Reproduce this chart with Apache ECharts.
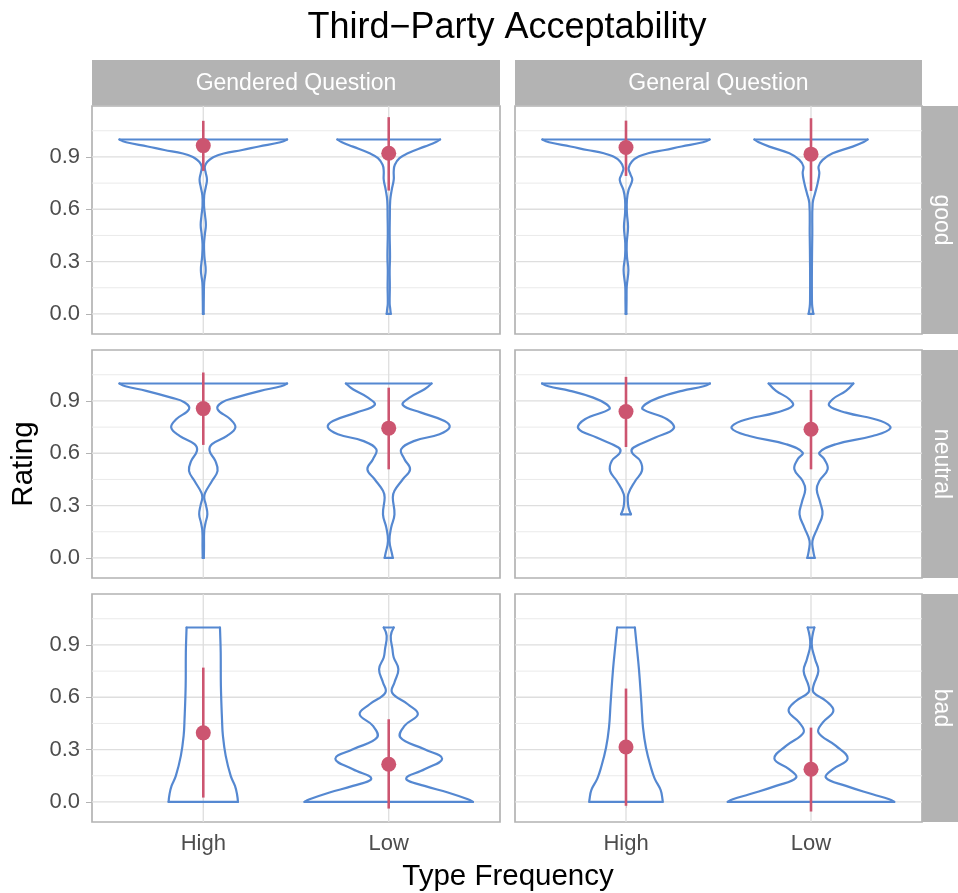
<!DOCTYPE html>
<html><head><meta charset="utf-8">
<script src="https://cdn.jsdelivr.net/npm/echarts@6/dist/echarts.min.js"></script>
<style>html,body{margin:0;padding:0;background:#fff}#c{width:958px;height:893px}</style>
</head><body><div id="c"></div>
<script>
// ---------- data ----------
const rowLabels = ['good', 'neutral', 'bad'];
const colLabels = ['Gendered Question', 'General Question'];
const freqLabels = ['High', 'Low'];
const ratingTicks = [0, 0.3, 0.6, 0.9];
const ratingMinor = [0.15, 0.45, 0.75, 1.05];

// violin outlines: [rating, half-width (x-axis units)]
const violinGoodGenderedHigh = [[0,0.002],[0.1,0.003],[0.18,0.005],[0.25,0.013],[0.33,0.006],[0.4,0.004],[0.46,0.009],[0.51,0.014],[0.56,0.01],[0.62,0.004],[0.68,0.005],[0.73,0.014],[0.77,0.02],[0.81,0.013],[0.84,0.008],[0.86,0.014],[0.88,0.03],[0.9,0.056],[0.92,0.11],[0.94,0.21],[0.96,0.3],[0.984,0.416],[1,0.452]];
const violinGoodGenderedLow = [[0,0.011],[0.03,0.008],[0.06,0.005],[0.16,0.006],[0.25,0.005],[0.33,0.007],[0.46,0.005],[0.55,0.006],[0.65,0.008],[0.71,0.016],[0.77,0.027],[0.82,0.027],[0.855,0.033],[0.893,0.058],[0.921,0.103],[0.959,0.193],[0.985,0.255],[1,0.277]];
const violinGoodGeneralHigh = [[0,0.002],[0.08,0.003],[0.157,0.004],[0.252,0.013],[0.33,0.005],[0.405,0.004],[0.5,0.011],[0.578,0.005],[0.654,0.005],[0.711,0.014],[0.768,0.034],[0.8,0.024],[0.836,0.014],[0.874,0.032],[0.902,0.068],[0.921,0.12],[0.94,0.21],[0.96,0.3],[0.984,0.416],[1,0.452]];
const violinGoodGeneralLow = [[0,0.013],[0.04,0.007],[0.08,0.005],[0.27,0.005],[0.46,0.007],[0.635,0.009],[0.692,0.022],[0.75,0.036],[0.807,0.045],[0.845,0.041],[0.883,0.063],[0.921,0.117],[0.959,0.225],[0.985,0.285],[1,0.306]];
const violinNeutralGenderedHigh = [[0,0.003],[0.06,0.004],[0.155,0.005],[0.2,0.012],[0.25,0.022],[0.3,0.015],[0.346,0.005],[0.374,0.01],[0.441,0.047],[0.499,0.077],[0.556,0.065],[0.614,0.034],[0.652,0.047],[0.7,0.128],[0.748,0.173],[0.795,0.146],[0.853,0.077],[0.891,0.1],[0.919,0.173],[0.958,0.308],[0.984,0.42],[1,0.452]];
const violinNeutralGenderedLow = [[0,0.022],[0.021,0.018],[0.098,0.004],[0.174,0.013],[0.25,0.031],[0.346,0.022],[0.385,0.031],[0.451,0.076],[0.508,0.115],[0.566,0.085],[0.623,0.067],[0.671,0.139],[0.709,0.274],[0.748,0.328],[0.785,0.301],[0.833,0.175],[0.877,0.076],[0.919,0.112],[0.967,0.193],[1,0.231]];
const violinNeutralGeneralHigh = [[0.25,0.027],[0.28,0.016],[0.308,0.011],[0.365,0.012],[0.441,0.05],[0.499,0.086],[0.556,0.077],[0.604,0.032],[0.633,0.041],[0.69,0.159],[0.743,0.258],[0.795,0.222],[0.853,0.09],[0.881,0.105],[0.919,0.177],[0.958,0.303],[0.984,0.42],[1,0.454]];
const violinNeutralGeneralLow = [[0,0.02],[0.04,0.012],[0.098,0.008],[0.174,0.036],[0.25,0.062],[0.317,0.05],[0.393,0.031],[0.441,0.045],[0.508,0.09],[0.566,0.072],[0.604,0.045],[0.652,0.135],[0.699,0.333],[0.743,0.429],[0.785,0.378],[0.833,0.189],[0.872,0.099],[0.91,0.117],[0.958,0.189],[1,0.229]];
const violinBadGenderedHigh = [[0,0.187],[0.044,0.182],[0.092,0.171],[0.149,0.148],[0.264,0.121],[0.378,0.106],[0.474,0.101],[0.665,0.095],[0.856,0.094],[0.97,0.091],[1,0.09]];
const violinBadGenderedLow = [[0,0.454],[0.015,0.427],[0.054,0.319],[0.092,0.193],[0.134,0.094],[0.187,0.193],[0.248,0.288],[0.302,0.193],[0.369,0.063],[0.436,0.085],[0.503,0.157],[0.56,0.103],[0.627,0.018],[0.685,0.031],[0.761,0.052],[0.828,0.027],[0.876,0.02],[0.952,0.011],[1,0.027]];
const violinBadGeneralHigh = [[0,0.198],[0.01,0.198],[0.069,0.187],[0.134,0.155],[0.197,0.135],[0.311,0.108],[0.426,0.092],[0.57,0.083],[0.761,0.07],[0.914,0.056],[1,0.048]];
const violinBadGeneralLow = [[0,0.45],[0.015,0.423],[0.044,0.333],[0.092,0.189],[0.139,0.081],[0.187,0.117],[0.248,0.198],[0.321,0.135],[0.398,0.04],[0.455,0.063],[0.522,0.121],[0.579,0.081],[0.627,0.014],[0.665,0.013],[0.751,0.04],[0.818,0.022],[0.904,0.004],[1,0.018]];

// means and error-bar ends, [High, Low]
const meanGoodGendered = [0.965, 0.921], lowerGoodGendered = [0.82, 0.707], upperGoodGendered = [1.107, 1.128];
const meanGoodGeneral = [0.954, 0.916], lowerGoodGeneral = [0.791, 0.705], upperGoodGeneral = [1.108, 1.122];
const meanNeutralGendered = [0.856, 0.744], lowerNeutralGendered = [0.648, 0.508], upperNeutralGendered = [1.063, 0.976];
const meanNeutralGeneral = [0.839, 0.738], lowerNeutralGeneral = [0.636, 0.508], upperNeutralGeneral = [1.038, 0.963];
const meanBadGendered = [0.396, 0.216], lowerBadGendered = [0.025, -0.038], upperBadGendered = [0.77, 0.474];
const meanBadGeneral = [0.315, 0.187], lowerBadGeneral = [-0.022, -0.055], upperBadGeneral = [0.65, 0.426];

// ---------- assembly ----------
const panels = [
  [ {v:[violinGoodGenderedHigh, violinGoodGenderedLow], m:meanGoodGendered, lo:lowerGoodGendered, hi:upperGoodGendered},
    {v:[violinGoodGeneralHigh, violinGoodGeneralLow], m:meanGoodGeneral, lo:lowerGoodGeneral, hi:upperGoodGeneral} ],
  [ {v:[violinNeutralGenderedHigh, violinNeutralGenderedLow], m:meanNeutralGendered, lo:lowerNeutralGendered, hi:upperNeutralGendered},
    {v:[violinNeutralGeneralHigh, violinNeutralGeneralLow], m:meanNeutralGeneral, lo:lowerNeutralGeneral, hi:upperNeutralGeneral} ],
  [ {v:[violinBadGenderedHigh, violinBadGenderedLow], m:meanBadGendered, lo:lowerBadGendered, hi:upperBadGendered},
    {v:[violinBadGeneralHigh, violinBadGeneralLow], m:meanBadGeneral, lo:lowerBadGeneral, hi:upperBadGeneral} ]
];

const FONT = '"Liberation Sans", Arial, Helvetica, sans-serif';
const panelLeft = [92, 515], panelWidth = [408, 407];
const panelTop = [106, 350, 594], panelHeight = 228;
const Y_MIN = -0.115, Y_MAX = 1.192, X_MIN = 0.4, X_MAX = 2.6;
const freqPos = freqLabels.map((_, i) => i + 1);
const VIOLIN = '#5588D1', MEAN = '#CC5570', GRID = '#DEDEDE', BORDER = '#B3B3B3';

const grids = [], xAxes = [], yAxes = [], series = [];
for (let r = 0; r < 3; r++) {
  for (let c = 0; c < 2; c++) {
    const gi = r * 2 + c;
    const P = panels[r][c];
    grids.push({left: panelLeft[c], top: panelTop[r], width: panelWidth[c], height: panelHeight,
      show: true, borderColor: BORDER, borderWidth: 1.7, backgroundColor: 'transparent', outerBoundsMode: 'none'});
    xAxes.push({gridIndex: gi, type: 'value', min: X_MIN, max: X_MAX,
      axisLine: {show: false}, splitLine: {show: false},
      axisTick: {show: r === 2, customValues: freqPos, length: 6, lineStyle: {color: BORDER, width: 1}},
      axisLabel: {show: r === 2, customValues: freqPos, margin: 11,
        formatter: v => freqLabels[Math.round(v) - 1], color: '#4D4D4D', fontSize: 22, fontFamily: FONT}});
    yAxes.push({gridIndex: gi, type: 'value', min: Y_MIN, max: Y_MAX,
      axisLine: {show: false}, splitLine: {show: false},
      axisTick: {show: c === 0, customValues: ratingTicks, length: 6, lineStyle: {color: BORDER, width: 1}},
      axisLabel: {show: c === 0, customValues: ratingTicks, margin: 12,
        formatter: v => v.toFixed(1), color: '#4D4D4D', fontSize: 22, fontFamily: FONT}});

    // grid lines: kind 0 minor horizontal, 1 major horizontal, 2 vertical
    const gl = ratingMinor.map(v => [1.5, v, 0]).concat(ratingTicks.map(v => [1.5, v, 1]), freqPos.map(x => [x, 0.5, 2]));
    series.push({type: 'custom', xAxisIndex: gi, yAxisIndex: gi, silent: true, z: 1, data: gl,
      renderItem: (p, api) => {
        const k = api.value(2);
        let a, b;
        if (k === 2) { a = api.coord([api.value(0), Y_MIN]); b = api.coord([api.value(0), Y_MAX]); }
        else { a = api.coord([X_MIN, api.value(1)]); b = api.coord([X_MAX, api.value(1)]); }
        return {type: 'line', shape: {x1: a[0], y1: a[1], x2: b[0], y2: b[1]},
          style: {stroke: k === 0 ? '#EAEAEA' : GRID, lineWidth: k === 0 ? 1 : 1.3}};
      }});
    // violins: two smoothed sides plus straight top and bottom edges
    series.push({type: 'custom', xAxisIndex: gi, yAxisIndex: gi, silent: true, z: 3,
      data: freqPos.map(x => [x, 0.5]),
      renderItem: (p, api) => {
        const prof = P.v[p.dataIndex];
        const xc = api.value(0);
        const right = prof.map(d => api.coord([xc + d[1], d[0]]));
        const left = prof.map(d => api.coord([xc - d[1], d[0]]));
        const n = prof.length - 1;
        const st = {fill: 'none', stroke: VIOLIN, lineWidth: 2.2, lineJoin: 'round', lineCap: 'round'};
        return {type: 'group', children: [
          {type: 'polyline', shape: {points: right, smooth: 0.42}, style: st},
          {type: 'polyline', shape: {points: left, smooth: 0.42}, style: st},
          {type: 'line', shape: {x1: left[n][0], y1: left[n][1], x2: right[n][0], y2: right[n][1]}, style: st},
          {type: 'line', shape: {x1: left[0][0], y1: left[0][1], x2: right[0][0], y2: right[0][1]}, style: st}
        ]};
      }});
    // error bars
    series.push({type: 'custom', xAxisIndex: gi, yAxisIndex: gi, silent: true, z: 4,
      data: freqPos.map((x, i) => [x, P.lo[i], P.hi[i]]),
      renderItem: (p, api) => {
        const a = api.coord([api.value(0), api.value(1)]);
        const b = api.coord([api.value(0), api.value(2)]);
        return {type: 'line', shape: {x1: a[0], y1: a[1], x2: b[0], y2: b[1]},
          style: {stroke: MEAN, lineWidth: 2.6}};
      }});
    // means
    series.push({type: 'scatter', xAxisIndex: gi, yAxisIndex: gi, silent: true, z: 5,
      symbol: 'circle', symbolSize: 15, itemStyle: {color: MEAN, opacity: 1},
      data: freqPos.map((x, i) => [x, P.m[i]])});
  }
}

const graphics = [];
for (let c = 0; c < 2; c++) {
  graphics.push({type: 'rect', shape: {x: panelLeft[c], y: 60, width: panelWidth[c], height: 45.5}, style: {fill: BORDER}, z: 10});
  graphics.push({type: 'text', x: panelLeft[c] + panelWidth[c] / 2, y: 84, z: 11,
    style: {text: colLabels[c], fill: '#FFFFFF', fontSize: 23, fontFamily: FONT, textAlign: 'center', textVerticalAlign: 'middle'}});
}
for (let r = 0; r < 3; r++) {
  graphics.push({type: 'rect', shape: {x: 922, y: panelTop[r], width: 36, height: panelHeight}, style: {fill: BORDER}, z: 10});
  graphics.push({type: 'text', x: 941, y: panelTop[r] + panelHeight / 2, rotation: -Math.PI / 2, z: 11,
    style: {text: rowLabels[r], fill: '#FFFFFF', fontSize: 23, fontFamily: FONT, textAlign: 'center', textVerticalAlign: 'middle'}});
}
graphics.push({type: 'text', x: 507, y: 28, z: 11,
  style: {text: 'Third\u2212Party Acceptability', fill: '#000', fontSize: 36, fontFamily: FONT, textAlign: 'center', textVerticalAlign: 'middle'}});
graphics.push({type: 'text', x: 508, y: 877, z: 11,
  style: {text: 'Type Frequency', fill: '#000', fontSize: 29.5, fontFamily: FONT, textAlign: 'center', textVerticalAlign: 'middle'}});
graphics.push({type: 'text', x: 24, y: 464, rotation: Math.PI / 2, z: 11,
  style: {text: 'Rating', fill: '#000', fontSize: 29.5, fontFamily: FONT, textAlign: 'center', textVerticalAlign: 'middle'}});

const chart = echarts.init(document.getElementById('c'), null, {renderer: 'canvas'});
chart.setOption({
  animation: false,
  backgroundColor: '#FFFFFF',
  grid: grids, xAxis: xAxes, yAxis: yAxes, series: series,
  graphic: {elements: graphics}
});
</script></body></html>
